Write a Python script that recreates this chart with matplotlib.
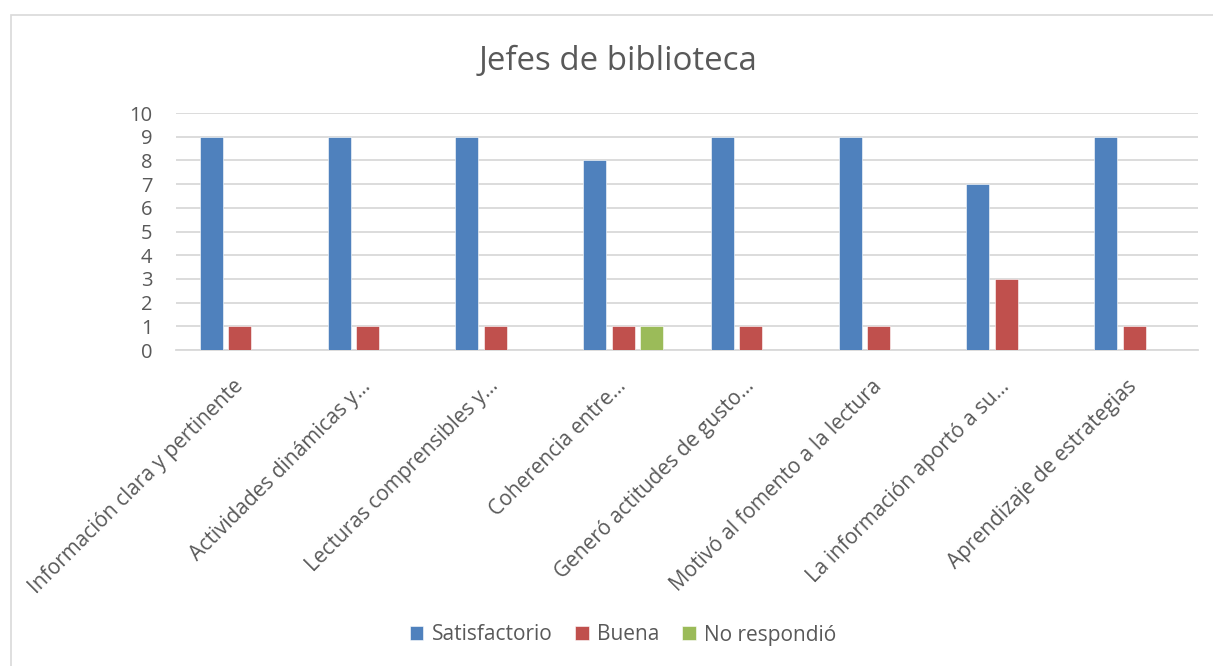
import numpy as np
import matplotlib
matplotlib.use("Agg")
import matplotlib.pyplot as plt
from matplotlib.patches import Rectangle

plt.rcParams["font.family"] = ["Open Sans", "DejaVu Sans"]

categories = [
    "Información clara y pertinente",
    "Actividades dinámicas y…",
    "Lecturas comprensibles y…",
    "Coherencia entre…",
    "Generó actitudes de gusto…",
    "Motivó al fomento a la lectura",
    "La información aportó a su…",
    "Aprendizaje de estrategias",
]
satisfactorio = [9, 9, 9, 8, 9, 9, 7, 9]
buena = [1, 1, 1, 1, 1, 1, 3, 1]
no_respondio = [0, 0, 0, 1, 0, 0, 0, 0]

series = [
    ("Satisfactorio", satisfactorio, "#4F81BD"),
    ("Buena", buena, "#C0504D"),
    ("No respondió", no_respondio, "#9BBB59"),
]

text_color = "#595959"
grid_color = "#D9D9D9"

fig = plt.figure(figsize=(12.13, 6.66), dpi=100)

# outer chart frame (only left and top edges fall inside the image)
fig.patches.append(Rectangle((11 / 1213, -0.05), 1.2, 1 - 15 / 666 + 0.05,
                             transform=fig.transFigure, fill=False,
                             edgecolor=grid_color, linewidth=1.2))

ax = fig.add_axes([176 / 1213, 1 - 350 / 666, (1198 - 176) / 1213, (350 - 113) / 666])

x = np.arange(len(categories))
width = 0.18
step = 0.223
for i, (name, vals, color) in enumerate(series):
    ax.bar(x + (i - 1) * step, vals, width, color=color, label=name,
           edgecolor="white", linewidth=0.4, zorder=3)

ax.set_xlim(-0.5, len(categories) - 0.5)
ax.set_ylim(0, 10)
ax.set_yticks(range(0, 11))
ax.yaxis.grid(True, color=grid_color, linewidth=1.3, zorder=0)
for s in ["top", "right", "left"]:
    ax.spines[s].set_visible(False)
ax.spines["bottom"].set_color(grid_color)
ax.spines["bottom"].set_linewidth(1.3)
ax.tick_params(axis="both", length=0, colors=text_color)
ax.tick_params(axis="y", pad=17, labelsize=14.5)
ax.set_xticks(x)
ax.set_xticklabels(categories, rotation=45, ha="right", va="center",
                   rotation_mode="anchor", fontsize=15, color=text_color)
ax.tick_params(axis="x", pad=24)

fig.text(618 / 1213, 1 - 62 / 666, "Jefes de biblioteca", ha="center", va="center",
         fontsize=23.8, color=text_color)

fig.legend(loc="center", bbox_to_anchor=(623 / 1213, 1 - 635 / 666), ncol=3,
           frameon=False, fontsize=15, labelcolor=text_color,
           handlelength=0.65, handleheight=0.65, handletextpad=0.4,
           columnspacing=1.1)

fig.savefig("out.png", dpi=100)
